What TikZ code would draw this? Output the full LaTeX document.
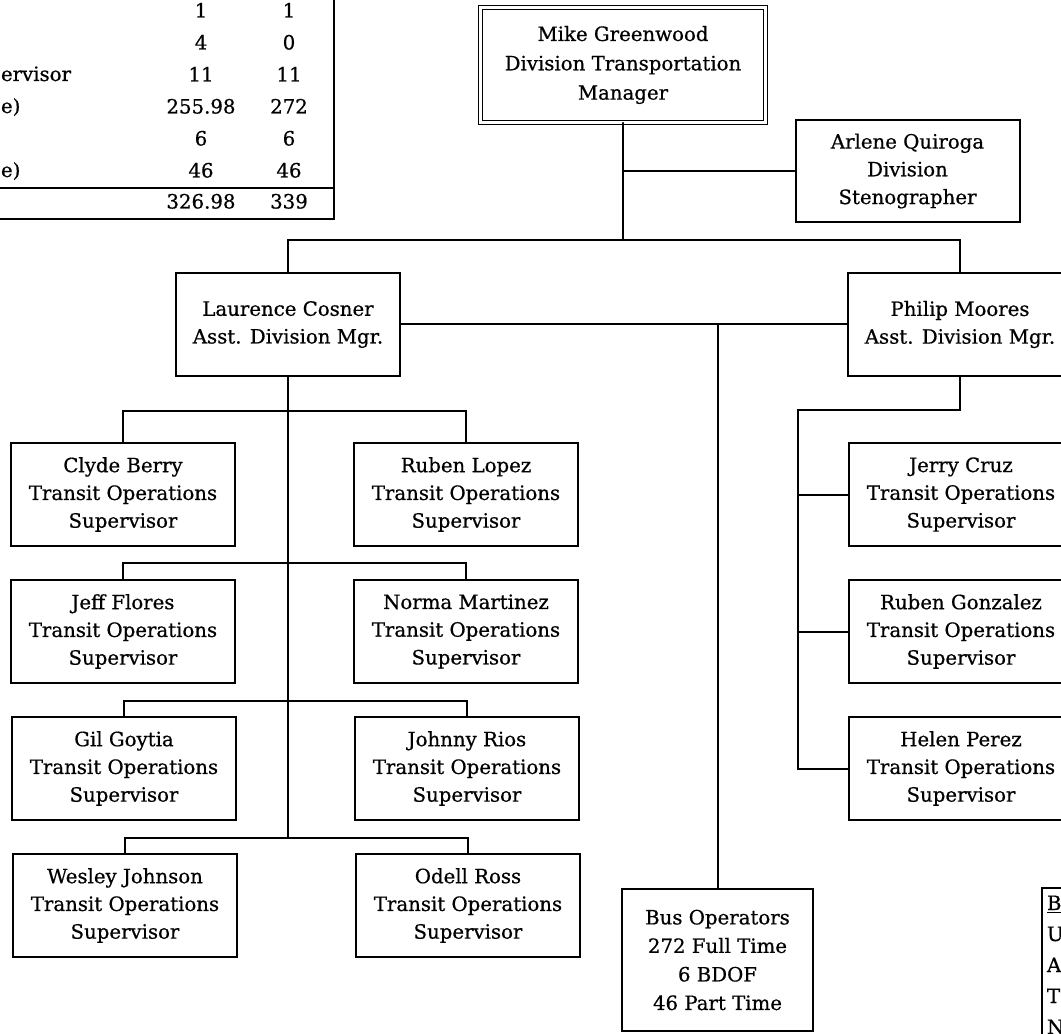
\documentclass[tikz,border=0pt]{standalone}
\usepackage{fontspec}
\setmainfont{DejaVu Serif}[FakeBold=0.6]
\begin{document}
\begin{tikzpicture}[x=0.75pt,y=-0.75pt,line cap=round,line width=1.5pt,
  box/.style={draw,line width=1.5pt,align=center,inner sep=0pt,minimum width=168pt,minimum height=77pt,font=\fontsize{14.8}{20.8}\selectfont},
  topbox/.style={box,double,double distance=2pt,line width=0.9pt,minimum width=214pt,minimum height=86pt,font=\fontsize{14.8}{22}\selectfont},
  cell/.style={inner sep=0pt,anchor=base,font=\fontsize{14.8}{18}\selectfont},
  tag/.style={cell,anchor=base west}]
\path[use as bounding box] (0,0) rectangle (1061,1034);
\clip (0,0) rectangle (1061,1034);
\draw (-5,219) -| (334,-5);
\draw (-5,188) -- (334,188);
\node[tag] (r3) at (0,81) {ervisor};
\node[tag] (r4) at (0,113) {e)};
\node[tag] (r6) at (0,177) {e)};
\node[cell] (a1) at (201,17.5) {1};
\node[cell] (b1) at (289,17.5) {1};
\node[cell] (a2) at (201,49.5) {4};
\node[cell] (b2) at (289,49.5) {0};
\node[cell] (a3) at (201,81.5) {11};
\node[cell] (b3) at (289,81.5) {11};
\node[cell] (a4) at (201,113.5) {255.98};
\node[cell] (b4) at (289,113.5) {272};
\node[cell] (a5) at (201,145.5) {6};
\node[cell] (b5) at (289,145.5) {6};
\node[cell] (a6) at (201,177.5) {46};
\node[cell] (b6) at (289,177.5) {46};
\node[cell] (a7) at (201,208.5) {326.98};
\node[cell] (b7) at (289,208.5) {339};
\node[topbox] (mgr) at (623,65) {Mike Greenwood\\Division Transportation\\Manager};
\node[box] (steno) at (907.5,171) {Arlene Quiroga\\Division\\Stenographer};
\node[box] (asstL) at (288,324.5) {Laurence Cosner\\Asst. Division Mgr.};
\node[box] (asstR) at (960,324.5) {Philip Moores\\Asst. Division Mgr.};
\node[box] (sup1) at (123,494.5) {Clyde Berry\\Transit Operations\\Supervisor};
\node[box] (sup2) at (466,494.5) {Ruben Lopez\\Transit Operations\\Supervisor};
\node[box] (sup3) at (123,631.5) {Jeff Flores\\Transit Operations\\Supervisor};
\node[box] (sup4) at (466,631.5) {Norma Martinez\\Transit Operations\\Supervisor};
\node[box] (sup5) at (124,768.5) {Gil Goytia\\Transit Operations\\Supervisor};
\node[box] (sup6) at (467,768.5) {Johnny Rios\\Transit Operations\\Supervisor};
\node[box] (sup7) at (125,905.5) {Wesley Johnson\\Transit Operations\\Supervisor};
\node[box] (sup8) at (468,905.5) {Odell Ross\\Transit Operations\\Supervisor};
\node[box] (sup9) at (961,494.5) {Jerry Cruz\\Transit Operations\\Supervisor};
\node[box] (sup10) at (961,631.5) {Ruben Gonzalez\\Transit Operations\\Supervisor};
\node[box] (sup11) at (961,768.5) {Helen Perez\\Transit Operations\\Supervisor};
\node[box,minimum width=143pt,minimum height=106pt,font=\fontsize{14.8}{21.4}\selectfont] (bus) at (717.5,960) {Bus Operators\\272 Full Time\\6 BDOF\\46 Part Time};
\coordinate (jTop) at (623,240);
\draw (mgr.south) -- (jTop);
\draw (mgr.south |- steno.west) -- (steno.west);
\draw (asstL.north) |- (jTop) -| (asstR.north);
\draw (asstL.east) -- (asstR.west);
\draw (bus.north) -- (bus.north |- asstL.east);
\coordinate (jL1) at (288,411);
\coordinate (jL2) at (288,563);
\coordinate (jL3) at (288,701);
\coordinate (jL4) at (288,838);
\draw (asstL.south) -- (jL4);
\draw (sup1.north) |- (jL1) -| (sup2.north);
\draw (sup3.north) |- (jL2) -| (sup4.north);
\draw (sup5.north) |- (jL3) -| (sup6.north);
\draw (sup7.north) |- (jL4) -| (sup8.north);
\coordinate (jR) at (798,410);
\draw (asstR.south) |- (jR) |- (sup11.west);
\draw (jR |- sup9.west) -- (sup9.west);
\draw (jR |- sup10.west) -- (sup10.west);
\draw (1042,1040) |- (1070,888);
\node[tag] (n1) at (1046,910) {\underline{B}};
\node[tag] (n2) at (1046,941) {U};
\node[tag] (n3) at (1046,972) {A};
\node[tag] (n4) at (1046,1003) {T};
\node[tag] (n5) at (1046,1034) {N};
\end{tikzpicture}
\end{document}
